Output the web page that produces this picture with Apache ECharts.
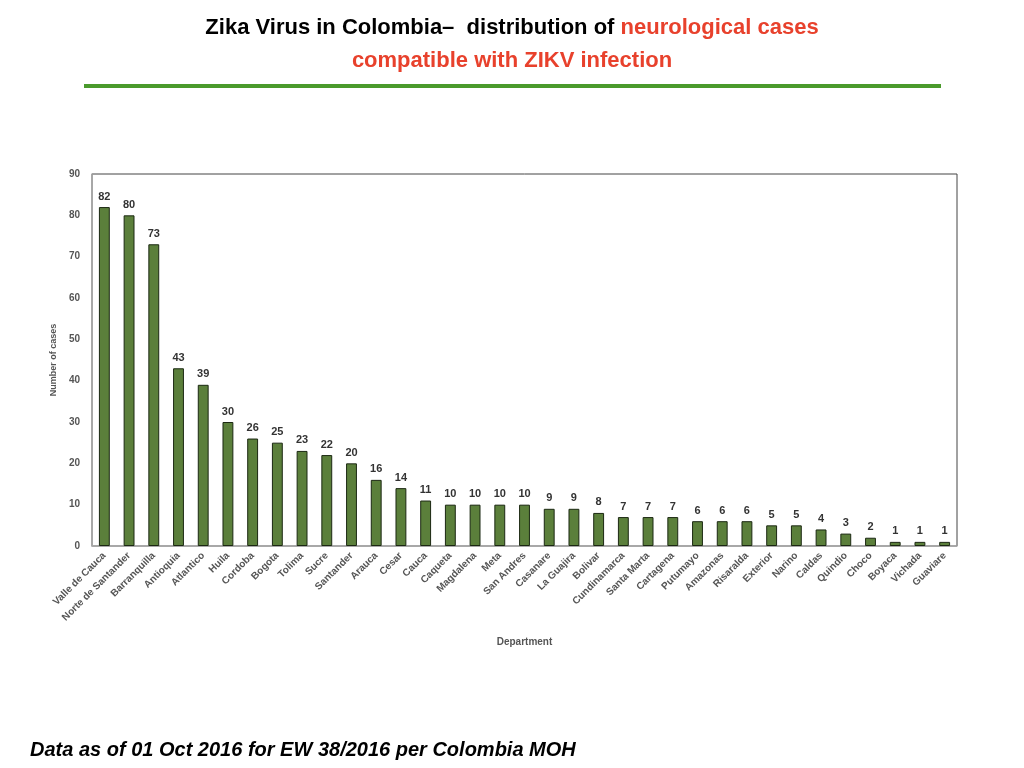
<!DOCTYPE html>
<html><head><meta charset="utf-8">
<script src="https://cdn.jsdelivr.net/npm/echarts@6/dist/echarts.min.js"></script>
<style>html,body{margin:0;padding:0;background:#fff}#c{width:1024px;height:768px}</style>
</head><body><div id="c"></div>
<script>
var departments = ['Valle de Cauca','Norte de Santander','Barranquilla','Antioquia','Atlantico','Huila','Cordoba','Bogota','Tolima','Sucre','Santander','Arauca','Cesar','Cauca','Caqueta','Magdalena','Meta','San Andres','Casanare','La Guajira','Bolivar','Cundinamarca','Santa Marta','Cartagena','Putumayo','Amazonas','Risaralda','Exterior','Narino','Caldas','Quindio','Choco','Boyaca','Vichada','Guaviare'];
var cases = [82,80,73,43,39,30,26,25,23,22,20,16,14,11,10,10,10,10,9,9,8,7,7,7,6,6,6,5,5,4,3,2,1,1,1];
var yTicks = [0,10,20,30,40,50,60,70,80,90];

var chart = echarts.init(document.getElementById('c'));
var ff = 'Liberation Sans, Arial, sans-serif';
chart.setOption({
  animation:false,
  backgroundColor:'#fff',
  textStyle:{fontFamily:ff},
  graphic:[
    {type:'text',x:512,y:11,style:{
      text:'{a|Zika Virus in Colombia\u2013  distribution of }{b|neurological cases}\n{b|compatible with ZIKV infection}',
      align:'center',
      rich:{
        a:{fill:'#000',fontSize:22,fontWeight:'bold',fontFamily:ff,lineHeight:33},
        b:{fill:'#e8412c',fontSize:22,fontWeight:'bold',fontFamily:ff,lineHeight:33}
      }
    }},
    {type:'rect',shape:{x:84,y:84,width:857,height:4},style:{fill:'#4a9a2c'}},
    {type:'text',left:30,top:740,style:{text:'Data as of 01 Oct 2016 for EW 38/2016 per Colombia MOH',fill:'#000',font:'italic bold 20px Liberation Sans, Arial, sans-serif'}}
  ],
  grid:{left:92,right:67,top:174,bottom:222,show:true,borderColor:'#444',borderWidth:1},
  xAxis:{
    type:'category',data:departments,
    name:'Department',nameLocation:'middle',nameGap:91,
    nameTextStyle:{color:'#555',fontSize:10,fontWeight:'bold'},
    axisLine:{lineStyle:{color:'#aaa',width:1.5}},
    axisTick:{show:false},
    axisLabel:{rotate:45,interval:0,color:'#555',fontSize:10,fontWeight:'bold',margin:8}
  },
  yAxis:{
    type:'value',min:0,max:90,interval:10,
    name:'Number of cases',nameLocation:'middle',nameGap:25,
    nameTextStyle:{color:'#555',fontSize:9,fontWeight:'bold'},
    axisLine:{show:true,lineStyle:{color:'#aaa',width:1.5}},
    axisTick:{show:false},
    splitLine:{show:false},
    axisLabel:{color:'#555',fontSize:10,fontWeight:'bold',margin:12,
      formatter:function(v){return yTicks.indexOf(v)>=0?String(v):'';}}
  },
  series:[{
    type:'bar',data:cases,barWidth:'44%',
    itemStyle:{color:'#5b7f3b',borderColor:'#1b2812',borderWidth:1},
    label:{show:true,position:'top',color:'#333',fontSize:11,fontWeight:'bold',distance:5}
  }]
});
</script></body></html>
